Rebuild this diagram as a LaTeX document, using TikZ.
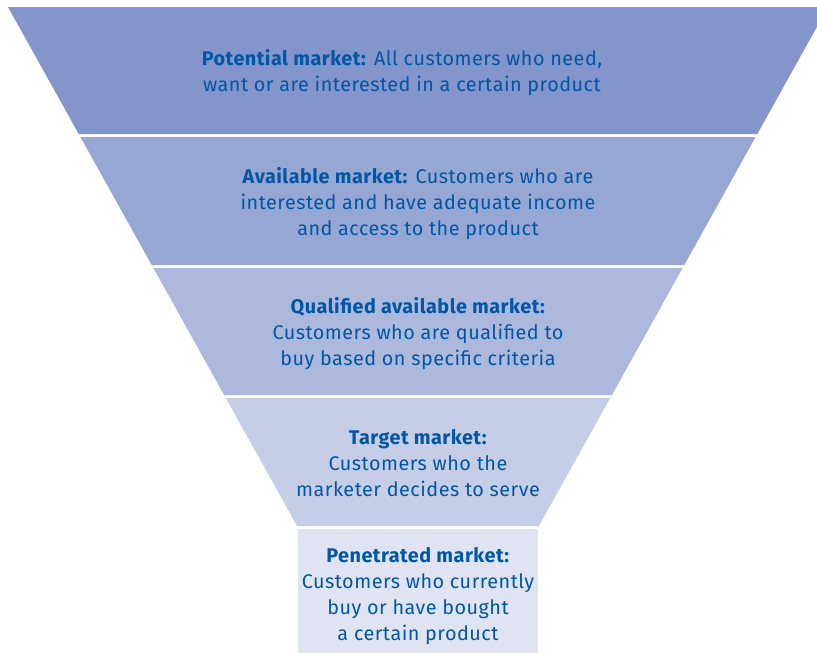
\documentclass[tikz,border=0pt]{standalone}
\usepackage{fontspec}
\setmainfont[LetterSpace=2.5]{Fira Sans}
\definecolor{bandA}{RGB}{131,149,202}
\definecolor{bandB}{RGB}{151,167,212}
\definecolor{bandC}{RGB}{173,184,221}
\definecolor{bandD}{RGB}{198,205,231}
\definecolor{bandE}{RGB}{224,228,242}
\definecolor{txtblue}{RGB}{0,87,166}

\begin{document}
\begin{tikzpicture}[x=1pt,y=-1pt]
        \useasboundingbox (0,0) rectangle (817,653);

        % funnel bands
        \fill[bandA] (8,7) -- (828,7) -- (757.3,134) -- (78.7,134) -- cycle;
        \fill[bandB] (80.4,137) -- (755.6,137) -- (684.3,265) -- (151.7,265) -- cycle;
        \fill[bandC] (153.4,268) -- (682.6,268) -- (611.9,395) -- (224.1,395) -- cycle;
        \fill[bandD] (225.8,398) -- (610.2,398) -- (538.9,526) -- (297.1,526) -- cycle;
        \fill[bandE] (298,529) rectangle (538,653);

        \begin{scope}[every node/.style={align=center, text=txtblue,
            font=\fontsize{19.8}{26}\selectfont}]
          \node (1) at (402,72.5) {\textbf{Potential market:} All customers who need,\\
            want or are interested in a certain product};
          \node (2) at (418,204) {\textbf{Available market:} Customers who are\\
            interested and have adequate income\\ and access to the product};
          \node (3) at (418,334) {\textbf{Qualified available market:}\\
            Customers who are qualified to\\ buy based on specific criteria};
          \node (4) at (418,463.5) {\textbf{Target market:}\\ Customers who the\\
            marketer decides to serve};
          \node (5) at (418,596.5) {\textbf{Penetrated market:}\\ Customers who currently\\
            buy or have bought\\ a certain product};
        \end{scope}

\end{tikzpicture}
\end{document}
